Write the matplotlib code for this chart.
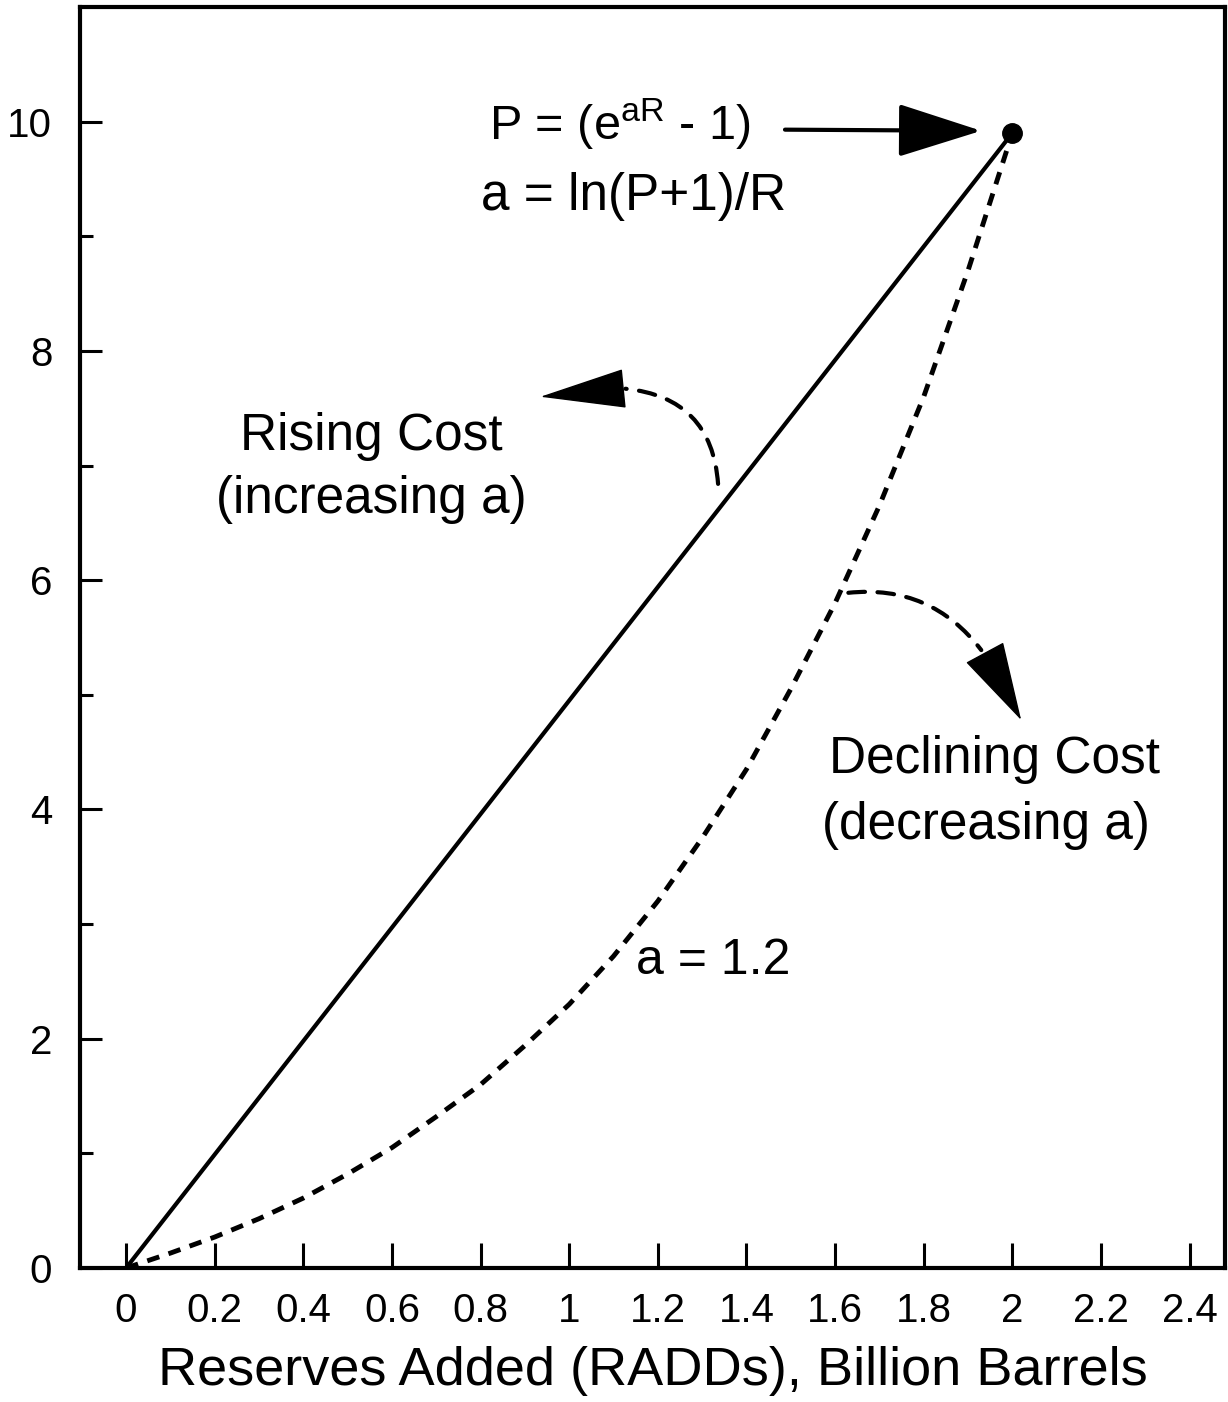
import matplotlib
matplotlib.use("Agg")
import matplotlib.pyplot as plt
from matplotlib.patches import FancyArrowPatch

plt.rcParams['font.family'] = ['Liberation Sans', 'DejaVu Sans']
plt.rcParams['mathtext.fontset'] = 'custom'
plt.rcParams['mathtext.rm'] = 'Liberation Sans'
plt.rcParams['mathtext.it'] = 'Liberation Sans'

# Data
reserves = [0, 0.1, 0.2, 0.3, 0.4, 0.5, 0.6, 0.7, 0.8, 0.9, 1.0,
            1.1, 1.2, 1.3, 1.4, 1.5, 1.6, 1.7, 1.8, 1.9, 2.0]
price_curve = [0, 0.13, 0.27, 0.43, 0.61, 0.82, 1.05, 1.32, 1.6, 1.94, 2.3,
               2.72, 3.2, 3.75, 4.35, 5.05, 5.8, 6.65, 7.6, 8.7, 9.9]
line_x = [0, 2.0]
line_y = [0, 9.9]
end_point = (2.0, 9.9)
xticks = [0, 0.2, 0.4, 0.6, 0.8, 1.0, 1.2, 1.4, 1.6, 1.8, 2.0, 2.2, 2.4]
xtick_labels = ['0', '0.2', '0.4', '0.6', '0.8', '1', '1.2', '1.4', '1.6', '1.8', '2', '2.2', '2.4']
yticks_major = [0, 2, 4, 6, 8, 10]
yticks_minor = [1, 3, 5, 7, 9]

fig = plt.figure(figsize=(12.28, 14.02), dpi=100)
ax = fig.add_axes([80/1228, 1 - 1268/1402, (1225-80)/1228, (1268-7)/1402])

ax.plot(line_x, line_y, color='black', lw=3, solid_capstyle='butt')
ax.plot(reserves, price_curve, color='black', lw=3.5, ls=(0, (2.6, 2.0)))
ax.plot([end_point[0]], [end_point[1]], 'o', color='black', markersize=14)

ax.set_xlim(-0.104, 2.48)
ax.set_ylim(0, 11.0)
ax.set_xticks(xticks)
ax.set_xticklabels(xtick_labels)
ax.set_yticks(yticks_major)
ax.set_yticks(yticks_minor, minor=True)
ax.tick_params(axis='both', which='major', direction='in', length=16, width=2.2,
               labelsize=29, color='black')
ax.tick_params(axis='x', which='major', pad=17, length=18)
ax.tick_params(axis='y', which='major', pad=20)
ax.tick_params(axis='y', which='minor', direction='in', length=9, width=2.2)
for s in ax.spines.values():
    s.set_linewidth(3)

ax.set_xlabel('Reserves Added (RADDs), Billion Barrels', fontsize=39, labelpad=12)

# Text annotations
ax.text(0.553, 7.25, 'Rising Cost', fontsize=37, ha='center', va='center')
ax.text(0.553, 6.70, '(increasing a)', fontsize=37, ha='center', va='center')
ax.text(1.96, 4.44, 'Declining Cost', fontsize=37, ha='center', va='center')
ax.text(1.94, 3.86, '(decreasing a)', fontsize=37, ha='center', va='center')
ax.text(1.15, 2.68, 'a = 1.2', fontsize=36, ha='left', va='center')
ax.text(0.82, 9.98, r'P = (e$^{\mathrm{aR}}$ - 1)', fontsize=35, ha='left', va='center')
ax.text(0.80, 9.35, 'a = ln(P+1)/R', fontsize=37, ha='left', va='center')

# Straight arrow to the end point
ax.annotate('', xy=(1.93, 9.92), xytext=(1.487, 9.93),
            arrowprops=dict(arrowstyle='-|>,head_length=2.2,head_width=0.7',
                            mutation_scale=24, lw=3, color='black',
                            shrinkA=0, shrinkB=0))

# Curved dashed arrow (rising cost)
ax.add_patch(FancyArrowPatch((1.336, 6.84), (1.127, 7.67),
                             connectionstyle='arc3,rad=0.42', arrowstyle='-',
                             lw=3, ls=(0, (4, 3)), color='black',
                             shrinkA=0, shrinkB=0))
ax.annotate('', xy=(0.935, 7.60), xytext=(1.118, 7.67),
            arrowprops=dict(arrowstyle='-|>,head_length=2.4,head_width=0.55',
                            mutation_scale=24, lw=1, color='black',
                            shrinkA=0, shrinkB=0))

# Curved dashed arrow (declining cost)
ax.add_patch(FancyArrowPatch((1.63, 5.89), (1.93, 5.39),
                             connectionstyle='arc3,rad=-0.28', arrowstyle='-',
                             lw=3, ls=(0, (4, 3)), color='black',
                             shrinkA=0, shrinkB=0))
ax.annotate('', xy=(2.02, 4.78), xytext=(1.939, 5.36),
            arrowprops=dict(arrowstyle='-|>,head_length=2.2,head_width=0.6',
                            mutation_scale=24, lw=1, color='black',
                            shrinkA=0, shrinkB=0))

fig.savefig('out.png', dpi=100)
